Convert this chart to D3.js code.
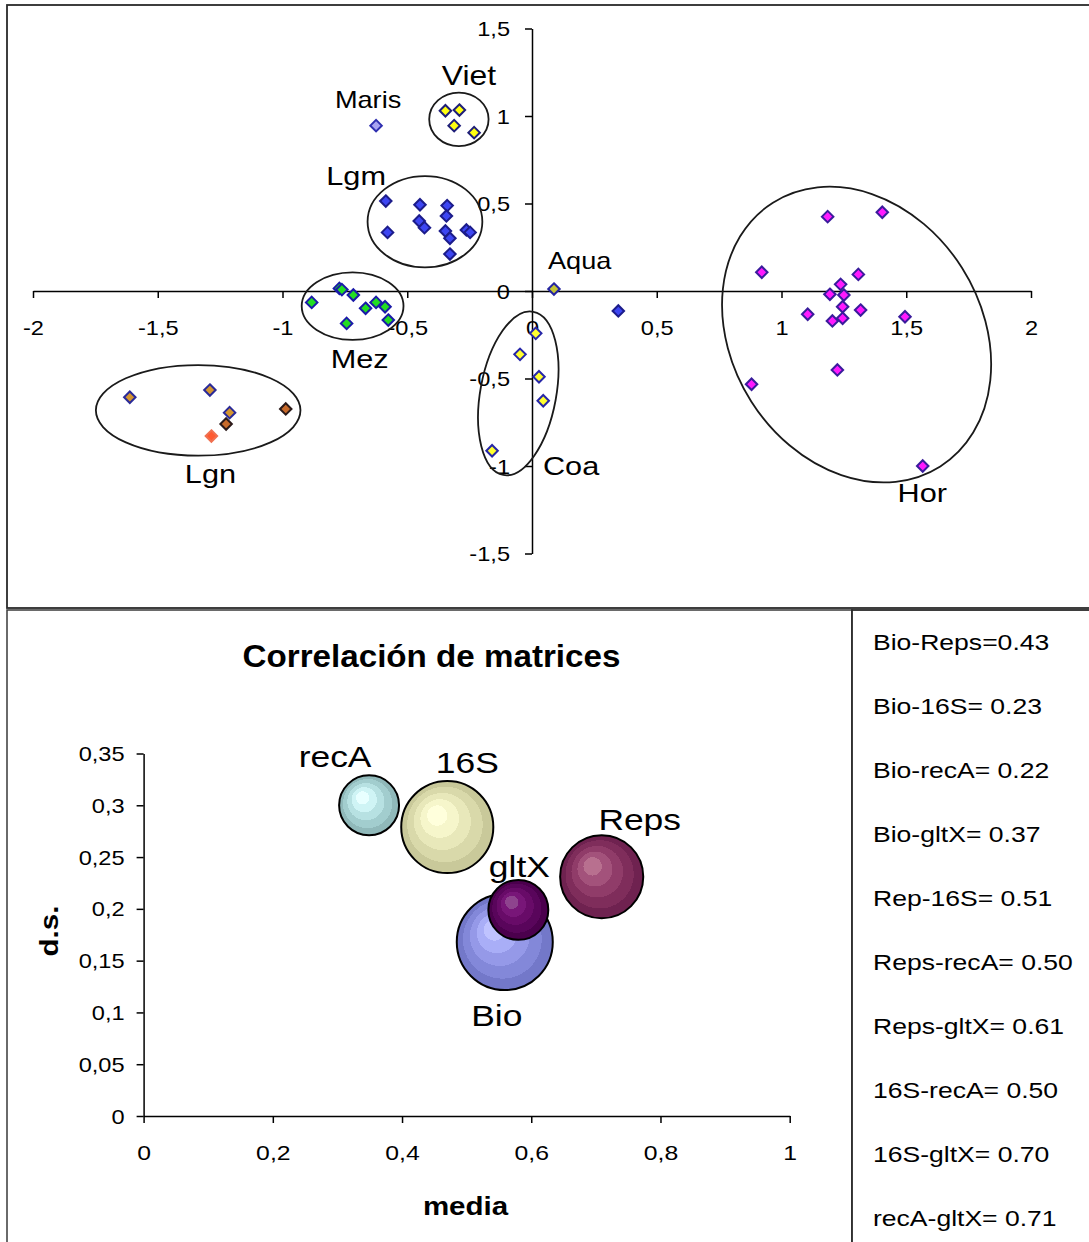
<!DOCTYPE html>
<html><head><meta charset="utf-8">
<script src="https://cdn.jsdelivr.net/npm/d3@7/dist/d3.min.js"></script>
<style>
body{margin:0;background:#fff}
svg{display:block;font-family:"Liberation Sans",Arial,sans-serif}
</style></head><body>
<svg id="chart" width="1089" height="1242"></svg>
<script>
// ================= DATA: top chart (ordination scatter) =================
const topXTicks = [-2, -1.5, -1, -0.5, 0, 0.5, 1, 1.5, 2];
const topXTickLabels = ["-2", "-1,5", "-1", "-0,5", "0", "0,5", "1", "1,5", "2"];
const topYTicks = [-1.5, -1, -0.5, 0, 0.5, 1, 1.5];
const topYTickLabels = ["-1,5", "-1", "-0,5", "0", "0,5", "1", "1,5"];

const horX = [1.185, 1.404, 0.921, 1.308, 1.237, 1.194, 1.250, 1.245, 1.317, 1.105, 1.204, 1.245, 1.495, 1.224, 0.880, 1.566];
const horY = [0.425, 0.450, 0.107, 0.095, 0.038, -0.019, -0.023, -0.090, -0.109, -0.133, -0.171, -0.156, -0.147, -0.451, -0.533, -1.000];
const lgmX = [-0.586, -0.579, -0.449, -0.452, -0.431, -0.340, -0.343, -0.347, -0.329, -0.329, -0.263, -0.248];
const lgmY = [0.514, 0.335, 0.493, 0.400, 0.362, 0.488, 0.429, 0.343, 0.301, 0.211, 0.349, 0.335];
const otherX = [0.346];
const otherY = [-0.114];
const marisX = [-0.625];
const marisY = [0.945];
const vietX = [-0.347, -0.291, -0.312, -0.232];
const vietY = [1.030, 1.034, 0.945, 0.905];
const mezX = [-0.883, -0.772, -0.762, -0.716, -0.667, -0.625, -0.589, -0.743, -0.576];
const mezY = [-0.065, 0.015, 0.008, -0.023, -0.099, -0.065, -0.090, -0.185, -0.166];
const aquaX = [0.088];
const aquaY = [0.011];
const coaX = [0.015, -0.048, 0.028, 0.045, -0.160];
const coaY = [-0.242, -0.362, -0.490, -0.627, -0.913];
const lgnAX = [-1.612, -1.291, -1.212];
const lgnAY = [-0.607, -0.566, -0.695];
const lgnBX = [-1.226, -0.987];
const lgnBY = [-0.760, -0.674];
const lgnCX = [-1.285];
const lgnCY = [-0.829];

const groups = [
  {key: "hor", x: horX, y: horY},
  {key: "lgm", x: lgmX, y: lgmY},
  {key: "other", x: otherX, y: otherY},
  {key: "maris", x: marisX, y: marisY},
  {key: "viet", x: vietX, y: vietY},
  {key: "mez", x: mezX, y: mezY},
  {key: "aqua", x: aquaX, y: aquaY},
  {key: "coa", x: coaX, y: coaY},
  {key: "lgnA", x: lgnAX, y: lgnAY},
  {key: "lgnB", x: lgnBX, y: lgnBY},
  {key: "lgnC", x: lgnCX, y: lgnCY}
];

// group ellipses (data units): centre, semi-axes, rotation in degrees
const ellipseNames = ["Viet", "Lgm", "Mez", "Lgn", "Coa", "Hor"];
const ellipseCX = [-0.293, -0.429, -0.719, -1.338, -0.055, 1.301];
const ellipseCY = [0.981, 0.396, -0.086, -0.682, -0.585, -0.249];
const ellipseRX = [0.119, 0.230, 0.204, 0.410, 0.152, 0.626];
const ellipseRY = [0.153, 0.261, 0.193, 0.259, 0.474, 0.713];
const ellipseRot = [0, 0, 0, 0, 10.4, 57.6];

// group labels (data units)
const topLabelText = ["Viet", "Maris", "Lgm", "Aqua", "Mez", "Lgn", "Coa", "Hor"];
const topLabelX = [-0.253, -0.657, -0.705, 0.064, -0.691, -1.289, 0.044, 1.465];
const topLabelY = [1.177, 1.046, 0.606, 0.126, -0.440, -1.097, -1.051, -1.204];

// ================= DATA: bubble chart =================
const bubbleNames = ["Bio", "16S", "Reps", "recA", "gltX"];
const bubbleMedia = [0.559, 0.470, 0.709, 0.349, 0.580];
const bubbleDS = [0.168, 0.279, 0.231, 0.300, 0.199];
const bubbleSize = [1.00, 0.92, 0.75, 0.39, 0.39];
const botXTicks = [0, 0.2, 0.4, 0.6, 0.8, 1];
const botXTickLabels = ["0", "0,2", "0,4", "0,6", "0,8", "1"];
const botYTicks = [0, 0.05, 0.1, 0.15, 0.2, 0.25, 0.3, 0.35];
const botYTickLabels = ["0", "0,05", "0,1", "0,15", "0,2", "0,25", "0,3", "0,35"];

// ================= DATA: correlation list =================
const corrPairs = ["Bio-Reps", "Bio-16S", "Bio-recA", "Bio-gltX", "Rep-16S", "Reps-recA", "Reps-gltX", "16S-recA", "16S-gltX", "recA-gltX"];
const corrValues = [0.43, 0.23, 0.22, 0.37, 0.51, 0.50, 0.61, 0.50, 0.70, 0.71];

// ================= STYLES =================
const SX = 1.18; // horizontal text stretch of the original rendering
const groupStyle = {
  hor:   {fill: "#ff19ff", stroke: "#3a1c9c"},
  lgm:   {fill: "#3d46f2", stroke: "#1c1c8a"},
  other: {fill: "#3d46f2", stroke: "#1c1c8a"},
  maris: {fill: "#a9a4f2", stroke: "#2f2fb0"},
  viet:  {fill: "#ffff10", stroke: "#1e1e78"},
  mez:   {fill: "#22dd22", stroke: "#1a1aa8"},
  aqua:  {fill: "#c4c434", stroke: "#2424a0"},
  coa:   {fill: "#ffff30", stroke: "#2626a8"},
  lgnA:  {fill: "#d49530", stroke: "#2a2a98"},
  lgnB:  {fill: "#c86a2a", stroke: "#2a1a1a"},
  lgnC:  {fill: "#ff5a30", stroke: "#f07050"}
};
const topLabelStyle = {
  Viet: {size: 27, anchor: "middle"}, Maris: {size: 23, anchor: "middle"},
  Lgm: {size: 26, anchor: "middle"}, Aqua: {size: 23, anchor: "start"},
  Mez: {size: 26, anchor: "middle"}, Lgn: {size: 26, anchor: "middle"},
  Coa: {size: 26, anchor: "start"}, Hor: {size: 26, anchor: "start"}
};
const bubbleStyle = {
  Bio:  {colors: ["#bfc3ff", "#a9aef7", "#9599e8", "#8388d9", "#7378c9"], dx: -8, dy: 84},
  "16S": {colors: ["#ffffdc", "#f6f6cb", "#e8e8ba", "#d9d9aa", "#c9c99a"], dx: 20, dy: -54},
  Reps: {colors: ["#b8708f", "#a3527b", "#903c69", "#7f2d5b", "#6f2250"], dx: 38, dy: -47},
  recA: {colors: ["#e8ffff", "#cff4f5", "#b7e1e2", "#a2cdce", "#90b9ba"], dx: -34, dy: -38},
  gltX: {colors: ["#8e438e", "#781678", "#680b68", "#59055b", "#4b004d"], dx: 1, dy: -33}
};

// ================= DRAW =================
const svg = d3.select("#chart");
const FONT = "Liberation Sans, Arial, sans-serif";

function label(g, x, y, str, size, opt) {
  opt = opt || {};
  const t = g.append("text")
    .attr("transform", `translate(${x},${y})` + (opt.rot ? ` rotate(${opt.rot})` : "") + ` scale(${opt.sx || SX},1)`)
    .attr("font-size", size)
    .attr("font-family", FONT)
    .attr("font-weight", opt.weight || "normal")
    .attr("text-anchor", opt.anchor || "start")
    .attr("fill", "#000")
    .text(str);
  if (opt.dy) t.attr("dy", opt.dy);
  return t;
}
function styleAxis(g, size, textX, textY) {
  g.attr("font-family", FONT).attr("font-size", size).attr("color", "#000");
  g.selectAll("path.domain, .tick line").attr("stroke-width", 1.5);
  g.selectAll(".tick text").each(function () {
    d3.select(this).attr("x", null).attr("y", null).attr("dy", "0.35em")
      .attr("fill", "#000")
      .attr("transform", `translate(${textX},${textY}) scale(${SX},1)`);
  });
}

// ---- frames ----
svg.append("rect").attr("x", 7).attr("y", 5).attr("width", 1100).attr("height", 603)
  .attr("fill", "#fff").attr("stroke", "#2a2a2a").attr("stroke-width", 1.8);
svg.append("rect").attr("x", 7).attr("y", 610).attr("width", 845).attr("height", 660)
  .attr("fill", "#fff").attr("stroke", "#3a3a3a").attr("stroke-width", 1.5);
svg.append("rect").attr("x", 852).attr("y", 610).attr("width", 300).attr("height", 660)
  .attr("fill", "#fff").attr("stroke", "#2a2a2a").attr("stroke-width", 1.8);

// ---- top chart ----
const xT = d3.scaleLinear().domain([-2, 2]).range([33, 1031]);
const yT = d3.scaleLinear().domain([-1.5, 1.5]).range([553.5, 28.5]);
const gTop = svg.append("g");

const gxT = gTop.append("g").attr("transform", `translate(0,${yT(0)})`)
  .call(d3.axisBottom(xT).tickValues(topXTicks).tickSizeInner(7).tickSizeOuter(0)
    .tickFormat((d, i) => topXTickLabels[i]));
styleAxis(gxT, 20, 0, 37);
const gyT = gTop.append("g").attr("transform", `translate(${xT(0)},0)`)
  .call(d3.axisLeft(yT).tickValues(topYTicks).tickSizeInner(7).tickSizeOuter(0)
    .tickFormat((d, i) => topYTickLabels[i]));
styleAxis(gyT, 20, -22, 0);
gyT.selectAll(".tick text").attr("text-anchor", "end");

// ellipses
ellipseNames.forEach((n, i) => {
  const cx = xT(ellipseCX[i]), cy = yT(ellipseCY[i]);
  gTop.append("ellipse")
    .attr("cx", cx).attr("cy", cy)
    .attr("rx", xT(ellipseRX[i]) - xT(0))
    .attr("ry", yT(0) - yT(ellipseRY[i]))
    .attr("transform", `rotate(${ellipseRot[i]},${cx},${cy})`)
    .attr("fill", "none").attr("stroke", "#1a1a1a").attr("stroke-width", 1.8);
});

// diamonds
const diamond = {draw(ctx, size) {
  const r = Math.sqrt(size / 2);
  ctx.moveTo(0, -r); ctx.lineTo(r, 0); ctx.lineTo(0, r); ctx.lineTo(-r, 0); ctx.closePath();
}};
const sym = d3.symbol().type(diamond).size(66);
groups.forEach(gr => {
  const st = groupStyle[gr.key];
  gTop.append("g").selectAll("path").data(gr.x.map((v, i) => [v, gr.y[i]])).join("path")
    .attr("d", sym)
    .attr("transform", d => `translate(${xT(d[0])},${yT(d[1])})`)
    .attr("fill", st.fill).attr("stroke", st.stroke).attr("stroke-width", 2);
});

// labels
topLabelText.forEach((t, i) => {
  const st = topLabelStyle[t];
  label(gTop, xT(topLabelX[i]), yT(topLabelY[i]), t, st.size, {anchor: st.anchor});
});

// ---- bubble chart ----
const xB = d3.scaleLinear().domain([0, 1]).range([143.6, 789.7]);
const yB = d3.scaleLinear().domain([0, 0.35]).range([1116, 753.5]);
const rB = d3.scaleSqrt().domain([0, 1]).range([0, 48]);
const gBot = svg.append("g");

label(gBot, 431.5, 667, "Correlación de matrices", 31, {anchor: "middle", weight: "bold", sx: 1.07});

const gxB = gBot.append("g").attr("transform", `translate(0,${yB(0)})`)
  .call(d3.axisBottom(xB).tickValues(botXTicks).tickSizeInner(7).tickSizeOuter(0)
    .tickFormat((d, i) => botXTickLabels[i]));
styleAxis(gxB, 21, 0, 37);
const gyB = gBot.append("g").attr("transform", `translate(${xB(0)},0)`)
  .call(d3.axisLeft(yB).tickValues(botYTicks).tickSizeInner(7).tickSizeOuter(0)
    .tickFormat((d, i) => botYTickLabels[i]));
styleAxis(gyB, 20, -19, 0);
gyB.selectAll(".tick text").attr("text-anchor", "end");

label(gBot, 465.5, 1215, "media", 25, {anchor: "middle", weight: "bold"});
label(gBot, 58, 931, "d.s.", 25, {anchor: "middle", weight: "bold", rot: -90});

// gradients
const defs = svg.append("defs");
bubbleNames.forEach((n, i) => {
  const c = bubbleStyle[n].colors;
  const grad = defs.append("radialGradient").attr("id", "grad" + i)
    .attr("cx", "50%").attr("cy", "50%").attr("r", "50%").attr("fx", "36%").attr("fy", "34%");
  const stops = [[0, c[0]], [0.22, c[0]], [0.22, c[1]], [0.42, c[1]], [0.42, c[2]], [0.62, c[2]], [0.62, c[3]], [0.82, c[3]], [0.82, c[4]], [1, c[4]]];
  stops.forEach(s => grad.append("stop").attr("offset", s[0]).attr("stop-color", s[1]));
});

const bubbles = bubbleNames.map((n, i) => ({n, i, x: bubbleMedia[i], y: bubbleDS[i], s: bubbleSize[i]}))
  .sort((a, b) => b.s - a.s);
gBot.append("g").selectAll("circle").data(bubbles).join("circle")
  .attr("cx", d => xB(d.x)).attr("cy", d => yB(d.y)).attr("r", d => rB(d.s))
  .attr("fill", d => `url(#grad${d.i})`).attr("stroke", "#000").attr("stroke-width", 2);
bubbleNames.forEach((n, i) => {
  const st = bubbleStyle[n];
  label(gBot, xB(bubbleMedia[i]) + st.dx, yB(bubbleDS[i]) + st.dy, n, 30, {anchor: "middle"});
});

// ---- correlation list ----
const yRow = d3.scalePoint().domain(corrPairs).range([642, 1218]);
corrPairs.forEach((p, i) => {
  label(svg, 873, yRow(p), p + (i === 0 ? "=" : "= ") + corrValues[i].toFixed(2), 22.5, {dy: "0.35em"});
});
</script>
</body></html>
